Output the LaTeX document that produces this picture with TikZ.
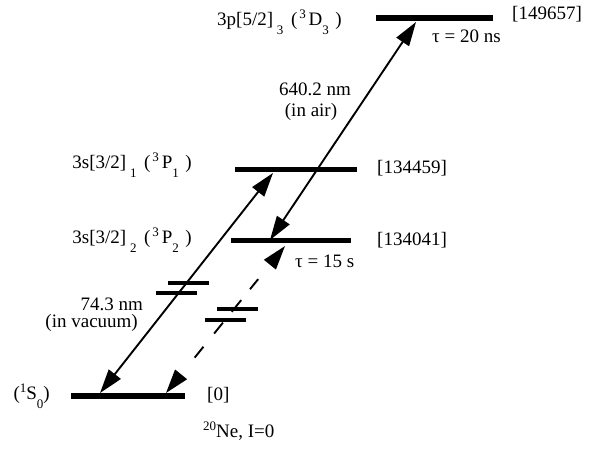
\documentclass[tikz,border=0pt]{standalone}
\usepackage{fontspec}
\setmainfont{Liberation Serif}
\usetikzlibrary{arrows.meta}
\newcommand{\lsub}[1]{\raisebox{-0.5em}{\fontsize{13}{13}\selectfont #1}}
\newcommand{\lsup}[1]{\raisebox{0.33em}{\fontsize{13}{13}\selectfont #1}}
\begin{document}
\begin{tikzpicture}[x=1pt,y=-1pt,
  levelbar/.style={line width=5.5pt},
  brk/.style={line width=4pt},
  tip/.tip={Triangle[length=24pt,width=15pt]},
  trans/.style={line width=1.9pt,{tip}-{tip}},
  dtrans/.style={trans,dash pattern=on 0pt off 22pt on 14pt off 17pt on 14pt off 14pt on 15pt off 14pt on 13pt off 60pt},
  lbl/.style={inner sep=0pt,font=\fontsize{19}{22}\selectfont}
]
\useasboundingbox (0,0) rectangle (589,448);
% levels
\coordinate (D3l) at (376,18);  \coordinate (D3r) at (493,18);
\coordinate (P1l) at (235,169.5); \coordinate (P1r) at (357,169.5);
\coordinate (P2l) at (231,240.5); \coordinate (P2r) at (351,240.5);
\coordinate (S0l) at (71,396);  \coordinate (S0r) at (185,396);
\draw[levelbar] (D3l) -- (D3r);
\draw[levelbar] (P1l) -- (P1r);
\draw[levelbar] (P2l) -- (P2r);
\draw[levelbar] (S0l) -- (S0r);
% transition end points
\coordinate (a1) at (100,393); \coordinate (a2) at (273,173);
\coordinate (b1) at (270,240); \coordinate (b2) at (416,22);
\coordinate (c1) at (166,393); \coordinate (c2) at (285,246);
\draw[trans] (a1) -- (a2);
\draw[trans] (b1) -- (b2);
\draw[dtrans] (c1) -- (c2);
% break marks
\coordinate (k1l) at (168,283); \coordinate (k1r) at (209,283);
\coordinate (k2l) at (156,293); \coordinate (k2r) at (197,293);
\coordinate (k3l) at (217,309); \coordinate (k3r) at (258,309);
\coordinate (k4l) at (205,320); \coordinate (k4r) at (246,320);
\draw[brk] (k1l) -- (k1r);
\draw[brk] (k2l) -- (k2r);
\draw[brk] (k3l) -- (k3r);
\draw[brk] (k4l) -- (k4r);
% labels
\node[lbl,anchor=base east] (tD3) at (342,25) {3p[5/2]\hspace{0.2em}\lsub{3}\hspace{0.4em}(\hspace{0.1em}\lsup{3}\hspace{0.15em}D\lsub{3}\hspace{0.35em})};
\node[lbl,anchor=base west] (eD3) at (512,19) {[149657]};
\node[lbl,anchor=base west] (tauD) at (432,42) {τ = 20 ns};
\node[lbl,anchor=base] (w1) at (315,95) {640.2 nm};
\node[lbl,anchor=base] (w1b) at (311,116) {(in air)};
\node[lbl,anchor=base east] (tP1) at (192,168) {3s[3/2]\hspace{0.2em}\lsub{1}\hspace{0.4em}(\hspace{0.1em}\lsup{3}\hspace{0.15em}P\lsub{1}\hspace{0.35em})};
\node[lbl,anchor=base west] (eP1) at (377,173) {[134459]};
\node[lbl,anchor=base east] (tP2) at (192,243) {3s[3/2]\hspace{0.2em}\lsub{2}\hspace{0.4em}(\hspace{0.1em}\lsup{3}\hspace{0.15em}P\lsub{2}\hspace{0.35em})};
\node[lbl,anchor=base west] (eP2) at (377,245) {[134041]};
\node[lbl,anchor=base west] (tauP) at (295,267) {τ = 15 s};
\node[lbl,anchor=base east] (w2) at (143,310) {74.3 nm};
\node[lbl,anchor=base east] (w2b) at (138,327) {(in vacuum)};
\node[lbl,anchor=base east] (tS0) at (50,399) {(\lsup{1}S\lsub{0})};
\node[lbl,anchor=base west] (eS0) at (207,400) {[0]};
\node[lbl,anchor=base west] (iso) at (203,437) {\lsup{20}Ne, I=0};
\end{tikzpicture}
\end{document}
